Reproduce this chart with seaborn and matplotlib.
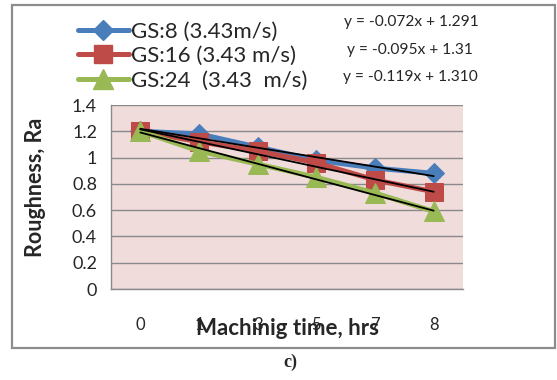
import numpy as np
import pandas as pd
import matplotlib
matplotlib.use("Agg")
import matplotlib.pyplot as plt
from matplotlib.lines import Line2D
from matplotlib.patches import Rectangle
import seaborn as sns

# ---- data ----
time_labels = ["0", "1", "3", "5", "7", "8"]
gs8 = [1.20, 1.18, 1.08, 0.98, 0.92, 0.88]
gs16 = [1.20, 1.12, 1.05, 0.96, 0.83, 0.74]
gs24 = [1.20, 1.05, 0.95, 0.85, 0.73, 0.59]
series_names = ["GS:8 (3.43m/s)", "GS:16 (3.43 m/s)", "GS:24  (3.43  m/s)"]
trend_slopes = [-0.072, -0.095, -0.119]
trend_intercepts = [1.291, 1.31, 1.310]
equations = ["y = -0.072x + 1.291", "y = -0.095x + 1.31", "y = -0.119x + 1.310"]

colors = ["#4A7EBB", "#BE4B48", "#98B954"]
markers = ["D", "s", "^"]
msizes = [10.5, 13.5, 14]

sns.set_style("white")
plt.rcParams["font.family"] = ["Lato", "DejaVu Sans"]

fig = plt.figure(figsize=(5.57, 3.80), dpi=100)
ax = fig.add_axes([111/557, 1-289/380, (463-111)/557, (289-105)/380])
ax.set_facecolor("#F1DCDC")

idx = np.arange(len(time_labels))
df = pd.DataFrame({
    "pos": np.tile(idx, 3),
    "Ra": gs8 + gs16 + gs24,
    "series": np.repeat(series_names, len(time_labels)),
})

for name, c, m, ms in zip(series_names, colors, markers, msizes):
    sub = df[df["series"] == name]
    sns.lineplot(data=sub, x="pos", y="Ra", color=c, marker=m, markersize=ms,
                 markeredgecolor=c, linewidth=3.6, ax=ax, legend=False, zorder=3)
for sl, ic in zip(trend_slopes, trend_intercepts):
    xe = idx + 1
    sns.lineplot(x=idx, y=sl * xe + ic, color="black", linewidth=1.3, ax=ax,
                 legend=False, zorder=4)

ax.set_xlim(-0.5, len(time_labels) - 0.5)
ax.set_ylim(0, 1.4)
ax.set_yticks(np.arange(0, 1.41, 0.2))
ax.set_yticklabels(["0", "0.2", "0.4", "0.6", "0.8", "1", "1.2", "1.4"])
ax.yaxis.grid(True, color="#8A8A8A", linewidth=1.0)
ax.set_axisbelow(True)

ax.set_xticks(np.arange(-0.5, len(time_labels)), minor=False)
ax.set_xticklabels([])
ax.set_xticks(idx, minor=True)
ax.set_xticklabels(time_labels, minor=True)
ax.tick_params(axis="x", which="major", length=5, width=1, color="#8A8A8A", direction="out")
ax.tick_params(axis="x", which="minor", length=0, pad=20, labelsize=12)
ax.tick_params(axis="y", length=6, width=1, color="#8A8A8A", direction="out", labelsize=13, pad=4)

for s in ["top", "right"]:
    ax.spines[s].set_visible(False)
for s in ["left", "bottom"]:
    ax.spines[s].set_color("#8A8A8A")
    ax.spines[s].set_linewidth(1.0)

ax.set_xlabel("Machinig time, hrs", fontsize=16, fontweight="bold", labelpad=0)
ax.xaxis.set_label_coords((288-111)/352, -(318-289)/184)
ax.set_ylabel("Roughness, Ra", fontsize=15.5, fontweight="bold")
ax.yaxis.set_label_coords((46-111)/352, (289-187)/184)

handles = [Line2D([0], [0], color=c, marker=m, markersize=ms, markeredgecolor=c, linewidth=3.6)
           for c, m, ms in zip(colors, markers, msizes)]
fig.legend(handles, series_names, loc="upper left", bbox_to_anchor=(62/557, 1 - 6/380),
           frameon=False, fontsize=16, handlelength=2.3, handletextpad=0.1,
           labelspacing=0.2, borderpad=0.2)

eq_x = [344, 347, 343]
eq_y = [22, 50, 77]
for i, eq in enumerate(equations):
    fig.text(eq_x[i]/557, 1 - eq_y[i]/380, eq, ha="left", va="center", fontsize=11.2)

fig.patches.append(Rectangle((12/557, 1-348/380), (555-12)/557, (348-5)/380,
                             transform=fig.transFigure, fill=False,
                             edgecolor="#8C8C8C", linewidth=1.6))
fig.text(290/557, 1 - 362/380, "c)", ha="center", va="center", fontsize=13,
         fontweight="bold", family=["Liberation Serif", "DejaVu Serif"])

fig.savefig("out.png", dpi=100)
